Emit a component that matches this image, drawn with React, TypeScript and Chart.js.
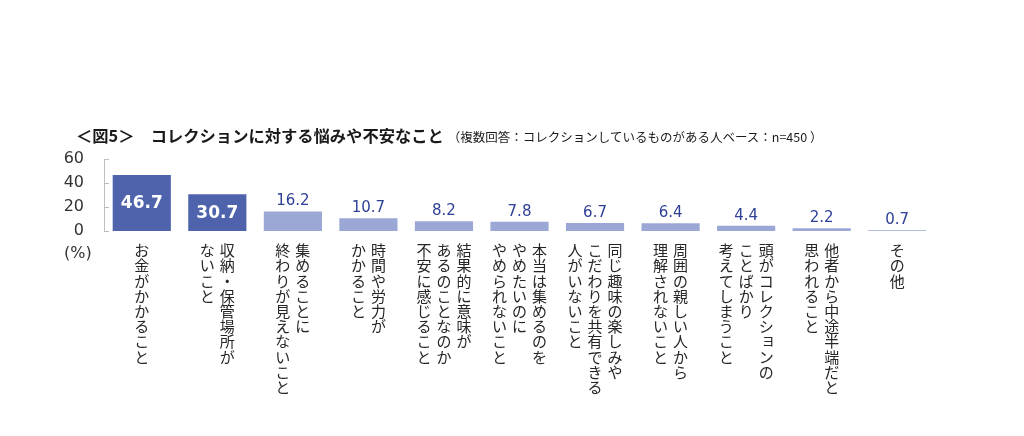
import { useEffect, useRef } from "react"
import { Chart, registerables } from "chart.js"

Chart.register(...registerables)

// Each category is written vertically; each inner string is one column (right to left)
const categories: string[][] = [
  ["お金がかかること"],
  ["収納・保管場所が", "ないこと"],
  ["集めることに", "終わりが見えないこと"],
  ["時間や労力が", "かかること"],
  ["結果的に意味が", "あるのことなのか", "不安に感じること"],
  ["本当は集めるのを", "やめたいのに", "やめられないこと"],
  ["同じ趣味の楽しみや", "こだわりを共有できる", "人がいないこと"],
  ["周囲の親しい人から", "理解されないこと"],
  ["頭がコレクションの", "ことばかり", "考えてしまうこと"],
  ["他者から中途半端だと", "思われること"],
  ["その他"],
]
const values = [46.7, 30.7, 16.2, 10.7, 8.2, 7.8, 6.7, 6.4, 4.4, 2.2, 0.7]
const highlighted = [true, true, false, false, false, false, false, false, false, false, false]
const yTicks = [0, 20, 40, 60]

const DARK = "#4f63ad"
const LIGHT = "#9ba7d4"
const VALUE_BLUE = "#2f4196"
const SMALL_KANA = "ぁぃぅぇぉっゃゅょァィゥェォッャュョ"

const labelsPlugin = {
  id: "barLabels",
  afterDraw(chart: Chart) {
    const { ctx, chartArea } = chart
    const xScale = chart.scales.x
    const yScale = chart.scales.y
    const meta = chart.getDatasetMeta(0)
    ctx.save()

    // inside tick marks on the y axis
    ctx.strokeStyle = "#bfbfbf"
    ctx.lineWidth = 1
    yTicks.forEach((t) => {
      const y = Math.round(yScale.getPixelForValue(t)) + 0.5
      ctx.beginPath()
      ctx.moveTo(chartArea.left, y)
      ctx.lineTo(chartArea.left + 5, y)
      ctx.stroke()
    })

    // value labels
    meta.data.forEach((bar: any, i: number) => {
      const v = values[i].toFixed(1)
      ctx.textAlign = "center"
      ctx.textBaseline = "middle"
      if (highlighted[i]) {
        ctx.font = "bold 17px 'DejaVu Sans'"
        ctx.fillStyle = "#ffffff"
        ctx.fillText(v, bar.x, (bar.y + bar.base) / 2 + 1)
      } else {
        ctx.font = "15px 'DejaVu Sans'"
        ctx.fillStyle = VALUE_BLUE
        ctx.fillText(v, bar.x, bar.y - 10)
      }
    })

    // vertical category labels
    ctx.font = "15px 'Noto Sans CJK JP'"
    ctx.fillStyle = "#262626"
    ctx.textAlign = "center"
    ctx.textBaseline = "middle"
    const colGap = 20
    const charGap = 15.2
    const top = chartArea.bottom + 19.5
    categories.forEach((cols, i) => {
      const cx = xScale.getPixelForValue(i)
      const n = cols.length
      cols.forEach((col, c) => {
        const x = cx + ((n - 1) / 2 - c) * colGap
        Array.from(col).forEach((ch, k) => {
          const small = SMALL_KANA.includes(ch)
          ctx.fillText(ch, x + (small ? 2 : 0), top + k * charGap - (small ? 2 : 0))
        })
      })
    })
    ctx.restore()
  },
}

export default function App() {
  const chartRef = useRef<HTMLCanvasElement>(null)
  const chartInstance = useRef<Chart | null>(null)

  useEffect(() => {
    if (!chartRef.current) return
    document.body.style.margin = "0"

    if (chartInstance.current) {
      chartInstance.current.destroy()
    }

    chartInstance.current = new Chart(chartRef.current, {
      type: "bar",
      data: {
        labels: categories.map((c) => c.join("")),
        datasets: [
          {
            data: values,
            backgroundColor: highlighted.map((h) => (h ? DARK : LIGHT)),
            barPercentage: 0.77,
            categoryPercentage: 1,
          },
        ],
      },
      options: {
        responsive: false,
        animation: false,
        devicePixelRatio: 1,
        layout: { padding: { left: 0, top: 159, right: 89, bottom: 0 } },
        plugins: {
          legend: { display: false },
          tooltip: { enabled: false },
        },
        scales: {
          x: {
            grid: { display: false },
            border: { display: false },
            ticks: { display: false },
            afterFit: (scale: any) => {
              scale.height = 205
            },
          },
          y: {
            min: 0,
            max: 60,
            grid: { display: false, drawTicks: false },
            border: { display: true, color: "#bfbfbf" },
            afterBuildTicks: (scale: any) => {
              scale.ticks = yTicks.map((value) => ({ value }))
            },
            ticks: {
              padding: 20,
              color: "#333333",
              font: { family: "'DejaVu Sans'", size: 16 },
            },
            afterFit: (scale: any) => {
              scale.width = 104
            },
          },
        },
      },
      plugins: [labelsPlugin],
    })

    return () => {
      if (chartInstance.current) {
        chartInstance.current.destroy()
      }
    }
  }, [])

  return (
    <div style={{ position: "absolute", left: 0, top: 0, width: 1024, height: 436, background: "#fff" }}>
      <canvas ref={chartRef} width={1024} height={436} />
      <div
        style={{
          position: "absolute",
          left: 76,
          top: 124,
          whiteSpace: "nowrap",
          fontFamily: "'Noto Sans CJK JP'",
          color: "#1a1a1a",
          lineHeight: "22px",
        }}
      >
        <span style={{ fontSize: 16.3, fontWeight: "bold" }}>＜図5＞　コレクションに対する悩みや不安なこと</span>
        <span style={{ fontSize: 12.5, marginLeft: 4 }}>（複数回答：コレクションしているものがある人ベース：n=450 ）</span>
      </div>
      <div
        style={{
          position: "absolute",
          left: 64,
          top: 243,
          fontFamily: "'DejaVu Sans'",
          fontSize: 16,
          color: "#333333",
          lineHeight: "20px",
        }}
      >
        (%)
      </div>
    </div>
  )
}
